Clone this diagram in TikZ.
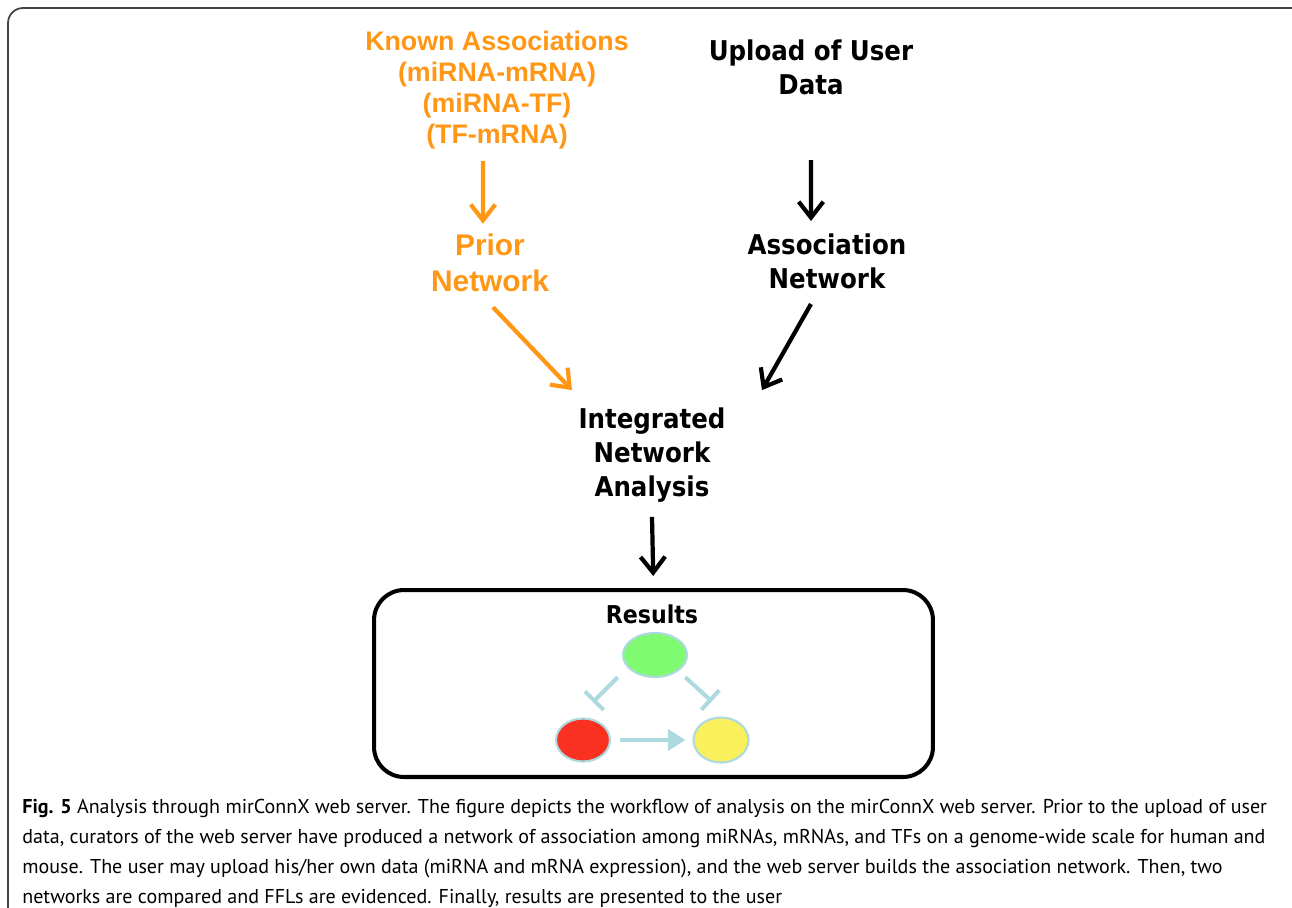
\documentclass[tikz,border=0pt]{standalone}
\usepackage{fontspec}
\usepackage{xcolor}
\usepackage{tikz}
\usetikzlibrary{arrows.meta,shapes.geometric,positioning}
\setmainfont{PT Sans}
\newfontfamily\knownfont{Liberation Sans}
\newfontfamily\flowfont{DejaVu Sans Condensed}
\definecolor{knownorange}{RGB}{255,150,20}
\definecolor{fflblue}{RGB}{172,218,222}
\definecolor{genegreen}{RGB}{128,250,112}
\definecolor{genered}{RGB}{250,48,32}
\definecolor{geneyellow}{RGB}{250,240,92}
\definecolor{framegray}{RGB}{70,70,70}

\begin{document}
\begin{tikzpicture}[x=0.02cm,y=-0.02cm]
\tikzstyle{flowtext}=[inner sep=0pt,align=center,font=\flowfont\bfseries\fontsize{15.5}{19.5}\selectfont]
\tikzstyle{knowntext}=[inner sep=0pt,align=center,text=knownorange,font=\knownfont\bfseries\fontsize{15.25}{17.6}\selectfont]
\tikzstyle{flow}=[draw,line width=2.4pt,-{Straight Barb[length=9pt,width=14pt]}]
\tikzstyle{knownflow}=[flow,draw=knownorange]
\tikzstyle{gene}=[ellipse,draw=fflblue,line width=1.2pt,inner sep=0pt]
\tikzstyle{ffl}=[draw=fflblue,line width=2.3pt]
\useasboundingbox (0,0) rectangle (1292,907);
\draw[framegray,line width=1pt,rounded corners=0.3cm] (8,940) -- (8,8) -- (1320,8);
% sources and networks
\node[knowntext] (known) at (497,90) {Known Associations\\(miRNA-mRNA)\\(miRNA-TF)\\(TF-mRNA)};
\node[flowtext] (upload) at (811,67) {Upload of User\\Data};
\node[knowntext,font=\knownfont\bfseries\fontsize{17}{20.4}\selectfont] (prior) at (490,263) {Prior\\Network};
\node[flowtext] (assoc) at (827,261) {Association\\Network};
\node[flowtext] (integ) at (652,455) {Integrated\\Network\\Analysis};
\path[knownflow] ([xshift=-0.28cm,yshift=-0.24cm]known.south) -- ([xshift=-0.14cm,yshift=0.2cm]prior.north);
\path[flow] ([yshift=-1.3cm]upload.south) -- ([xshift=-0.32cm,yshift=0.24cm]assoc.north);
\path[knownflow] ([xshift=0.06cm,yshift=-0.3cm]prior.south) -- ([xshift=-1.6cm,yshift=0.34cm]integ.north);
\path[flow] ([xshift=-0.32cm,yshift=-0.3cm]assoc.south) -- ([xshift=2.2cm,yshift=0.34cm]integ.north);
% results
\node[draw,line width=2.3pt,rounded corners=0.6cm,minimum width=11.18cm,minimum height=3.74cm] (box) at (653.5,683.5) {};
\path[flow,shorten >=0.24cm] ([yshift=-0.28cm]integ.south) -- (box.north);
\node[flowtext,font=\flowfont\bfseries\fontsize{14}{16}\selectfont] (results) at (652,614) {Results};
\foreach \pos/\name/\col/\w/\h in {{(655,655)/top/genegreen/1.28/0.88},{(583,740)/left/genered/1.08/0.86},{(721,740)/right/geneyellow/1.1/0.9}}
  \node[gene,fill=\col,minimum width=\w cm,minimum height=\h cm] (\name) at \pos {};
\path[ffl,-{Bar[width=15pt]}] ([xshift=-0.28cm,yshift=-0.12cm]top.south west) -- ([xshift=-0.2cm,yshift=0.44cm]left.north east);
\path[ffl,-{Bar[width=15pt]}] ([xshift=0.14cm,yshift=-0.12cm]top.south east) -- ([xshift=0.22cm,yshift=0.44cm]right.north west);
\path[ffl,-{Triangle[length=10pt,width=12pt]},shorten <=0.18cm,shorten >=0.14cm] (left) -- (right);
% caption
\node[anchor=north west,inner sep=0pt,align=left,font=\fontsize{11.4}{17}\selectfont] (caption) at (22,799) {\textbf{Fig. 5} Analysis through mirConnX web server. The figure depicts the workflow of analysis on the mirConnX web server. Prior to the upload of user\\data, curators of the web server have produced a network of association among miRNAs, mRNAs, and TFs on a genome-wide scale for human and\\mouse. The user may upload his/her own data (miRNA and mRNA expression), and the web server builds the association network. Then, two\\networks are compared and FFLs are evidenced. Finally, results are presented to the user};
\end{tikzpicture}
\end{document}
